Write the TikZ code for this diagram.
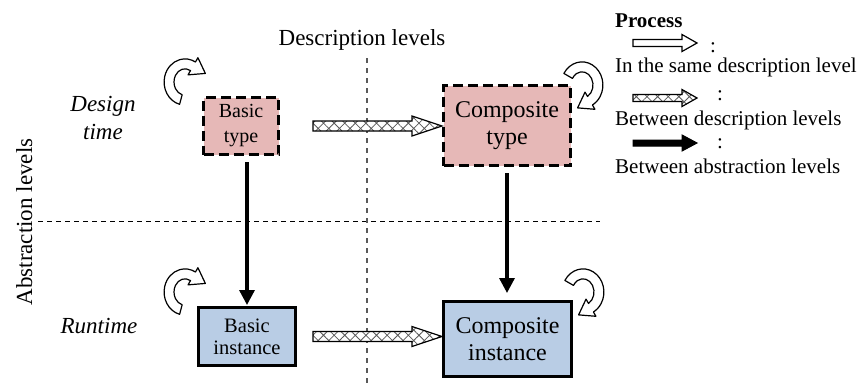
\documentclass[tikz,border=0pt]{standalone}
\usepackage{fontspec}
\setmainfont{Liberation Serif}
\usetikzlibrary{arrows.meta,patterns.meta,calc}

\definecolor{typefill}{HTML}{E6B8B7}
\definecolor{instfill}{HTML}{B9CDE5}

\tikzset{
  typebox/.style={draw, line width=3pt, dash pattern=on 10pt off 5pt, fill=typefill,
    align=center, inner sep=0pt},
  instbox/.style={draw, line width=3pt, fill=instfill, align=center, inner sep=0pt},
  levelflow/.style={line width=3.3pt, -{Triangle[length=15pt,width=15pt]}},
  plainblock/.style={draw, line width=1.2pt, fill=white, line join=miter},
  hatchblock/.style={draw, line width=1.2pt, line join=miter, preaction={fill=white},
    pattern={Hatch[angle=45,distance=7.5pt,line width=0.8pt]}, pattern color=gray!70!black},
  solidblock/.style={draw, line width=1pt, fill=black},
  turnstyle/.style={draw, line width=1.2pt, fill=white, line join=round},
  label/.style={font=\fontsize{23}{27}\selectfont},
  keytext/.style={font=\fontsize{21}{25}\selectfont, anchor=base west, inner sep=0pt},
  pics/turnarrow/.style 2 args={code={
    \path[turnstyle] (#1:19 and 21) arc[start angle=#1, end angle=#2, x radius=19, y radius=21]
      -- (#2:23.5 and 25.5)
      -- ({14.5*cos(#2)+13*cos(#2-90)}, {16.5*sin(#2)+13*sin(#2-90)})
      -- (#2:5.5 and 7.5) -- (#2:10 and 12)
      arc[start angle=#2, end angle=#1, x radius=10, y radius=12] -- cycle;
  }}
}

% horizontal block arrow: style, start, end, body half-height, head half-height, head length
\newcommand\blockarrow[6]{%
  \path[#1] let \p1=(#2), \p2=(#3) in
    (\x1,\y1+#4) -- (\x2-#6,\y1+#4) -- (\x2-#6,\y1+#5) -- (\x2,\y1)
    -- (\x2-#6,\y1-#5) -- (\x2-#6,\y1-#4) -- (\x1,\y1-#4) -- cycle;}

\begin{document}
\begin{tikzpicture}[x=1pt, y=-1pt]
\useasboundingbox (0,0) rectangle (862,383);

% level separators
\draw[line width=1pt, dash pattern=on 5pt off 4pt] (38,221) -- (600,221);
\draw[line width=1.5pt, gray!70!black, dash pattern=on 5pt off 5pt] (367,58) -- (367,383);

% axis titles
\node[label] (desc) at (362,40) {Description levels};
\node[label, rotate=90, anchor=base] (abst) at (32,222) {Abstraction levels};
\node[label, font=\fontsize{23}{28}\selectfont\itshape, align=center] (design) at (103,118) {Design\\time};
\node[label, font=\fontsize{23}{27}\selectfont\itshape, anchor=base] (runtime) at (99,333) {Runtime};

% the four boxes
\node[typebox, minimum width=75pt, minimum height=57pt, font=\fontsize{20}{25}\selectfont]
  (bt) at (241,126) {Basic\\type};
\node[typebox, minimum width=127pt, minimum height=80pt, font=\fontsize{24}{27}\selectfont]
  (ct) at (507,125.5) {Composite\\type};
\node[instbox, minimum width=97pt, minimum height=58pt, font=\fontsize{20.5}{22}\selectfont]
  (bi) at (247,336.5) {Basic\\instance};
\node[instbox, minimum width=128pt, minimum height=75pt, font=\fontsize{24}{27}\selectfont]
  (ci) at (507.5,339) {Composite\\instance};

% processes between abstraction levels
\draw[levelflow, shorten <=6pt, shorten >=1pt] (bi.north |- bt.south) -- (bi.north);
\draw[levelflow, shorten <=6pt, shorten >=7pt] (ct.south) -- (ct.south |- ci.north);

% processes between description levels
\coordinate (h1) at ([xshift=33pt]bt.east);
\coordinate (h2) at ([xshift=16pt]bi.east);
\blockarrow{hatchblock}{h1}{ct.west}{5pt}{10pt}{30pt}
\blockarrow{hatchblock}{h2}{ci.west}{5pt}{10pt}{30pt}

% processes within a description level
\pic[yscale=-1.1, xscale=1.1] (t1) at (185,82) {turnarrow={255}{60}};
\pic[yscale=-1.1, xscale=1.1] (t2) at (185,292) {turnarrow={255}{60}};
\pic[yscale=-1.1, xscale=1.1] (t3) at (582,85) {turnarrow={150}{-60}};
\pic[yscale=-1.1, xscale=1.1] (t4) at (583,292) {turnarrow={150}{-60}};

% legend
\node[keytext, font=\fontsize{21}{25}\selectfont\bfseries] (proc) at (615,27) {Process};
\coordinate (l1a) at (633,43);  \coordinate (l1b) at (697,43);
\coordinate (l2a) at (633,98);  \coordinate (l2b) at (697,98);
\coordinate (l3a) at (633,143); \coordinate (l3b) at (697,143);
\blockarrow{plainblock}{l1a}{l1b}{3.5pt}{8.5pt}{15pt}
\blockarrow{hatchblock}{l2a}{l2b}{3.5pt}{8.5pt}{15pt}
\blockarrow{solidblock}{l3a}{l3b}{3pt}{8pt}{15pt}
\node[keytext, anchor=base] (c1) at (713,52) {:};
\node[keytext, anchor=base] (c2) at (720,100) {:};
\node[keytext, anchor=base] (c3) at (720,148) {:};
\node[keytext] (k1) at (615,72) {In the same description level};
\node[keytext] (k2) at (615,125) {Between description levels};
\node[keytext] (k3) at (615,173) {Between abstraction levels};
\end{tikzpicture}
\end{document}
